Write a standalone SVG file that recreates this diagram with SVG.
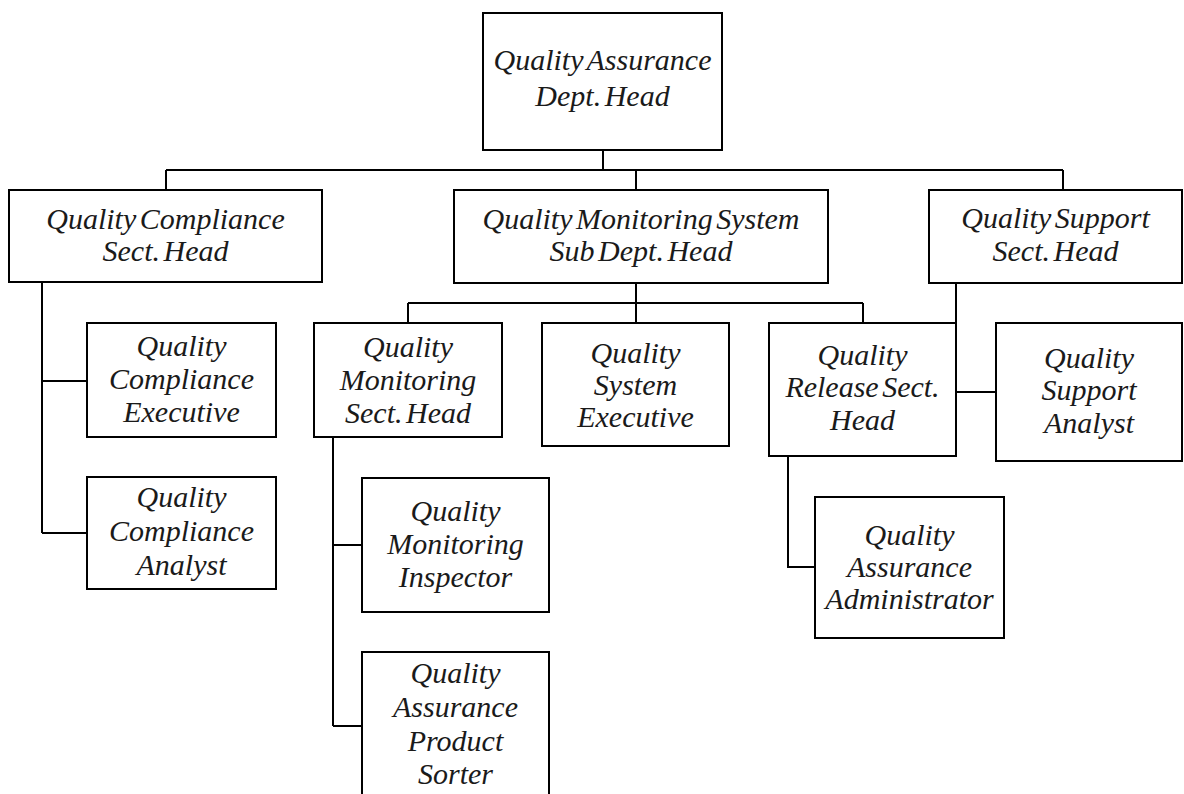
<svg xmlns="http://www.w3.org/2000/svg" width="1184" height="794" viewBox="0 0 1184 794">
  <style>
    .box { fill: #ffffff; stroke: #000000; stroke-width: 2; }
    .link { fill: none; stroke: #000000; stroke-width: 2; }
    .label { font-family: "Liberation Serif", "Times New Roman", serif; font-style: italic; font-size: 30px; fill: #1a1a1a; text-anchor: middle; word-spacing: -4px; }
  </style>
  <rect width="1184" height="794" fill="#ffffff"/>

  <!-- reporting lines -->
  <g id="connectors">
    <path class="link" d="M603,150 V170 M166,170 H1063 M166,170 V190 M636,170 V190 M1063,170 V190"/>
    <path class="link" d="M42,282 V533 M42,381 H87 M42,533 H87"/>
    <path class="link" d="M636,283 V323 M408,303 H863 M408,303 V323 M863,303 V323"/>
    <path class="link" d="M333,437 V726 M333,545 H362 M333,726 H362"/>
    <path class="link" d="M956,283 V392 H996"/>
    <path class="link" d="M788,456 V567 H815"/>
  </g>

  <g id="qa-dept-head">
    <rect class="box" x="483" y="13" width="239" height="137"/>
    <text class="label"><tspan x="602.5" y="70">Quality Assurance</tspan><tspan x="602.5" y="106">Dept. Head</tspan></text>
  </g>

  <g id="quality-compliance-sect-head">
    <rect class="box" x="9" y="190" width="313" height="92"/>
    <text class="label"><tspan x="165.5" y="229">Quality Compliance</tspan><tspan x="165.5" y="261">Sect. Head</tspan></text>
  </g>

  <g id="quality-monitoring-system-head">
    <rect class="box" x="454" y="190" width="374" height="93"/>
    <text class="label"><tspan x="641" y="229">Quality Monitoring System</tspan><tspan x="641" y="261">Sub Dept. Head</tspan></text>
  </g>

  <g id="quality-support-sect-head">
    <rect class="box" x="929" y="190" width="253" height="93"/>
    <text class="label"><tspan x="1055.5" y="228">Quality Support</tspan><tspan x="1055.5" y="261">Sect. Head</tspan></text>
  </g>

  <g id="quality-compliance-executive">
    <rect class="box" x="87" y="323" width="189" height="114"/>
    <text class="label"><tspan x="181.5" y="356">Quality</tspan><tspan x="181.5" y="389">Compliance</tspan><tspan x="181.5" y="422">Executive</tspan></text>
  </g>

  <g id="quality-compliance-analyst">
    <rect class="box" x="87" y="477" width="189" height="112"/>
    <text class="label"><tspan x="181.5" y="507">Quality</tspan><tspan x="181.5" y="541">Compliance</tspan><tspan x="181.5" y="575">Analyst</tspan></text>
  </g>

  <g id="quality-monitoring-sect-head">
    <rect class="box" x="314" y="323" width="188" height="114"/>
    <text class="label"><tspan x="408" y="357">Quality</tspan><tspan x="408" y="390">Monitoring</tspan><tspan x="408" y="423">Sect. Head</tspan></text>
  </g>

  <g id="quality-system-executive">
    <rect class="box" x="542" y="323" width="187" height="123"/>
    <text class="label"><tspan x="635.5" y="363">Quality</tspan><tspan x="635.5" y="395">System</tspan><tspan x="635.5" y="427">Executive</tspan></text>
  </g>

  <g id="quality-release-sect-head">
    <rect class="box" x="769" y="323" width="187" height="133"/>
    <text class="label"><tspan x="862.5" y="365">Quality</tspan><tspan x="862.5" y="397">Release Sect.</tspan><tspan x="862.5" y="430">Head</tspan></text>
  </g>

  <g id="quality-support-analyst">
    <rect class="box" x="996" y="323" width="186" height="138"/>
    <text class="label"><tspan x="1089" y="368">Quality</tspan><tspan x="1089" y="400">Support</tspan><tspan x="1089" y="433">Analyst</tspan></text>
  </g>

  <g id="quality-monitoring-inspector">
    <rect class="box" x="362" y="478" width="187" height="134"/>
    <text class="label"><tspan x="455.5" y="521">Quality</tspan><tspan x="455.5" y="554">Monitoring</tspan><tspan x="455.5" y="587">Inspector</tspan></text>
  </g>

  <g id="quality-assurance-product-sorter">
    <rect class="box" x="362" y="652" width="187" height="160"/>
    <text class="label"><tspan x="455.5" y="683">Quality</tspan><tspan x="455.5" y="717">Assurance</tspan><tspan x="455.5" y="751">Product</tspan><tspan x="455.5" y="784">Sorter</tspan></text>
  </g>

  <g id="quality-assurance-administrator">
    <rect class="box" x="815" y="497" width="189" height="141"/>
    <text class="label"><tspan x="909.5" y="545">Quality</tspan><tspan x="909.5" y="577">Assurance</tspan><tspan x="909.5" y="609">Administrator</tspan></text>
  </g>
</svg>
